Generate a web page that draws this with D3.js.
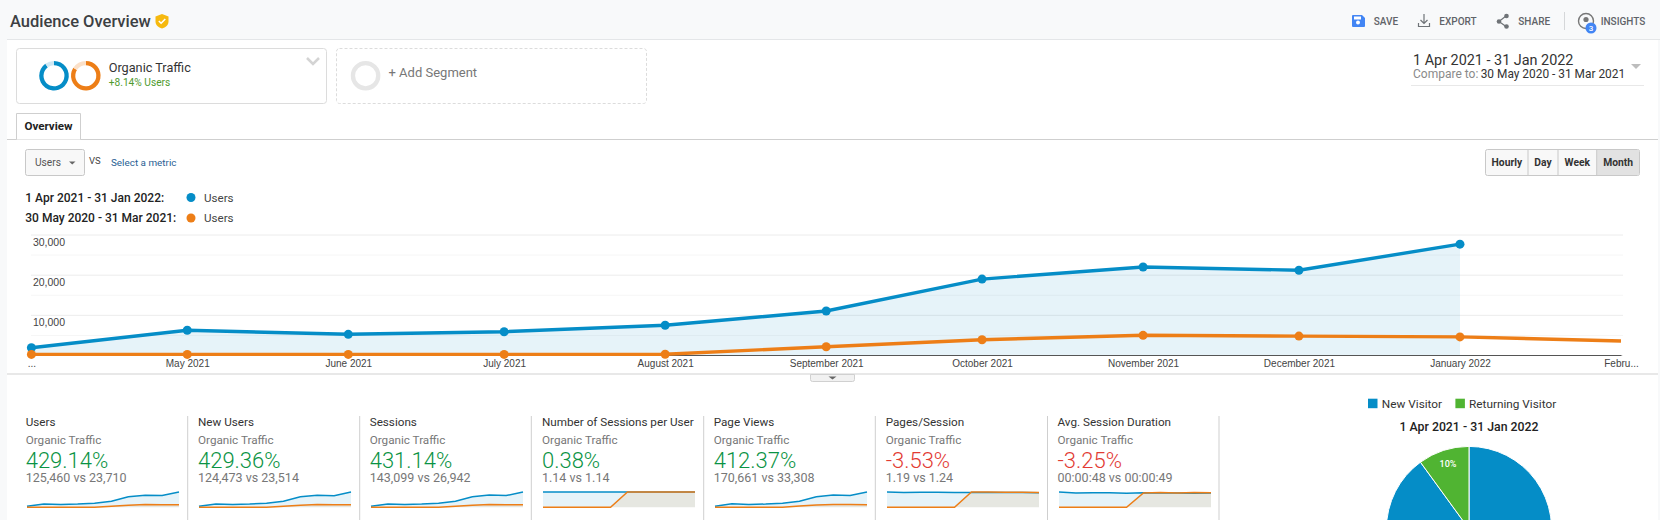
<!DOCTYPE html>
<html>
<head>
<meta charset="utf-8">
<title>Audience Overview</title>
<script src="https://cdn.jsdelivr.net/npm/d3@7/dist/d3.min.js"></script>
<style>
html,body{margin:0;padding:0;background:#fff;overflow:hidden}
svg{display:block}
text{font-family:Roboto,sans-serif}
.ax text{font-family:"Liberation Sans",Arial,sans-serif}
</style>
</head>
<body>
<svg id="c" width="1660" height="520"></svg>
<script>
// ---------- data ----------
const months = ["2021-04-01","2021-05-01","2021-06-01","2021-07-01","2021-08-01","2021-09-01","2021-10-01","2021-11-01","2021-12-01","2022-01-01","2022-02-01"];
const monthLabels = ["...","May 2021","June 2021","July 2021","August 2021","September 2021","October 2021","November 2021","December 2021","January 2022","Febru..."];
const usersCurrent = [1800,6150,5150,5800,7400,10950,18900,21900,21100,27600];
const usersPrevious = [150,150,150,150,200,2060,3800,4900,4700,4500,3500];
const yMajorTicks = [10000,20000,30000];
const yGridTicks = [0,5000,10000,15000,20000,25000,30000];

const metricNames = ["Users","New Users","Sessions","Number of Sessions per User","Page Views","Pages/Session","Avg. Session Duration"];
const metricChange = ["429.14%","429.36%","431.14%","0.38%","412.37%","-3.53%","-3.25%"];
const metricCompare = ["125,460 vs 23,710","124,473 vs 23,514","143,099 vs 26,942","1.14 vs 1.14","170,661 vs 33,308","1.19 vs 1.24","00:00:48 vs 00:00:49"];
const sparkCurrent = [
  [1800,6150,5150,5800,7400,10950,18900,21900,21100,27600],
  [1750,6100,5100,5750,7300,10800,18800,21700,20900,27400],
  [2050,7000,5850,6600,8400,12500,21500,25000,24000,31400],
  [1.14,1.14,1.14,1.14,1.14,1.14,1.14,1.14,1.14,1.14],
  [2400,8300,7000,7800,10000,14800,25500,29800,28700,37000],
  [1.23,1.2,1.21,1.21,1.2,1.2,1.19,1.19,1.19,1.18],
  [52,49,49.5,49.5,48,49.5,48.5,49,48,49]
];
const sparkPrevious = [
  [150,150,150,150,200,2060,3800,4900,4700,4500],
  [150,150,150,150,200,2040,3750,4850,4650,4450],
  [170,170,170,170,230,2350,4330,5590,5360,5130],
  [0,0,0,0,0,1.14,1.14,1.14,1.14,1.14],
  [210,210,210,210,280,2880,5320,6860,6580,6300],
  [0,0,0,0,0,1.24,1.23,1.21,1.21,1.2],
  [0,0,0,0,0,49,50,48.5,50,49.5]
];
const sparkLeft = [27,199,371,543,715,887,1059];
const metricLeft = [25.7,198,369.7,542,713.7,885.7,1057.5];
const dividers = [187.7,359.7,531.3,703.7,875.3,1047.5,1219];

const pieLabels = ["New Visitor","Returning Visitor"];
const pieValues = [90,10];
const rangeButtons = ["Hourly","Day","Week","Month"];

// ---------- colours ----------
const BLUE="#058dc7", ORANGE="#ed7e17", GREEN="#50b432";
const svg = d3.select("#c");

function T(x,y,s,o={}){
  return svg.append("text").attr("x",x).attr("y",y).attr("dy","0.35em").text(s)
    .attr("font-size",o.size||12).attr("fill",o.fill||"#333").attr("font-weight",o.weight||400)
    .attr("text-anchor",o.anchor||"start").style("font-family",o.family||null);
}
function R(x,y,w,h,o={}){
  return svg.append("rect").attr("x",x).attr("y",y).attr("width",w).attr("height",h)
    .attr("fill",o.fill||"none").attr("stroke",o.stroke||"none").attr("rx",o.rx||0)
    .attr("stroke-dasharray",o.dash||null);
}
function L(x1,y1,x2,y2,c,w){
  return svg.append("line").attr("x1",x1).attr("y1",y1).attr("x2",x2).attr("y2",y2).attr("stroke",c).attr("stroke-width",w||1);
}

// ---------- page chrome ----------
R(0,0,1660,520,{fill:"#f8f9fa"});
R(7,39.5,1651,481,{fill:"#fff"});
L(7,39.5,1660,39.5,"#e4e6e8");
T(10,21,"Audience Overview",{size:16.5,weight:500,fill:"#3c4043"});
svg.append("path").attr("d","M162,14 l6.5,2.4 v5 c0,3.4 -2.8,6 -6.5,7 c-3.7,-1 -6.5,-3.6 -6.5,-7 v-5 z").attr("fill","#f6b90f");
svg.append("path").attr("d","M158.8,21 l2.3,2.3 l4.2,-4.4").attr("fill","none").attr("stroke","#fff").attr("stroke-width",1.5);

// toolbar
svg.append("path").attr("d","M1353,15 h9 l3,3 v8 a1,1 0 0 1 -1,1 h-11 a1,1 0 0 1 -1,-1 v-10 a1,1 0 0 1 1,-1z").attr("fill","#4285f4");
svg.append("circle").attr("cx",1358).attr("cy",22.5).attr("r",2).attr("fill","#fff");
R(1354,16.5,7,3,{fill:"#fff"});
T(1373.7,21.7,"SAVE",{size:10,weight:500,fill:"#5f6368"});
svg.append("path").attr("d","M1424,14 v9 M1420.5,20 l3.5,3.5 l3.5,-3.5 M1418.5,23 v3.5 h11 v-3.5").attr("fill","none").attr("stroke","#6f7377").attr("stroke-width",1.2);
T(1439.3,21.7,"EXPORT",{size:10,weight:500,fill:"#5f6368"});
svg.append("path").attr("d","M1506,16 L1499,21.5 L1506,26.5").attr("fill","none").attr("stroke","#6f7377").attr("stroke-width",1.2);
[[1506.5,16],[1499,21.5],[1506.5,26.5]].forEach(p=>svg.append("circle").attr("cx",p[0]).attr("cy",p[1]).attr("r",2.3).attr("fill","#6f7377"));
T(1518.3,21.7,"SHARE",{size:10,weight:500,fill:"#5f6368"});
L(1564.5,12,1564.5,30,"#d5d7d9");
svg.append("circle").attr("cx",1586).attr("cy",21).attr("r",7.5).attr("fill","none").attr("stroke","#777").attr("stroke-width",1.4);
svg.append("circle").attr("cx",1586).attr("cy",19.5).attr("r",2.6).attr("fill","#777");
svg.append("circle").attr("cx",1591).attr("cy",28).attr("r",5.5).attr("fill","#4285f4");
T(1591,28.2,"3",{size:8,fill:"#fff",anchor:"middle",weight:500});
T(1600.7,21.7,"INSIGHTS",{size:10,weight:500,fill:"#5f6368"});

// segment boxes
R(16.5,48.5,310,55,{stroke:"#dcdcdc",rx:3,fill:"#fff"});
R(336.5,48.5,310,55,{stroke:"#dcdcdc",rx:3,dash:"3,2",fill:"#fff"});
const ringPie = d3.pie().sort(null);
const ringArc = d3.arc().innerRadius(10.5).outerRadius(14.8);
function ring(cx,vals,cols){
  svg.append("g").attr("transform",`translate(${cx},75.7)`).selectAll("path").data(ringPie(vals)).join("path")
    .attr("d",ringArc).attr("fill",(d,i)=>cols[i]);
}
ring(54,[90,10],[BLUE,"#cfe8f4"]);
ring(85.8,[84,16],[ORANGE,"#fbe0c8"]);
ring(365.6,[100,0],["#e6e6e6","#e6e6e6"]);
T(108.7,68,"Organic Traffic",{size:12.7,fill:"#333"});
T(108.7,82.7,"+8.14% Users",{size:10.2,fill:"#4f9a2e"});
svg.append("path").attr("d","M307,58 l6,6 l6,-6").attr("fill","none").attr("stroke","#d4d4d4").attr("stroke-width",2.5);
T(388.5,72.7,"+ Add Segment",{size:13,fill:"#777"});

// date range
T(1413,60,"1 Apr 2021 - 31 Jan 2022",{size:14.4,fill:"#333"});
T(1413,73.7,"Compare to:",{size:12,fill:"#8a8a8a"});
T(1480.7,73.7,"30 May 2020 - 31 Mar 2021",{size:11.9,fill:"#333"});
svg.append("path").attr("d","M1631,64 h10 l-5,5 z").attr("fill","#bdbdbd");
L(1411,85.5,1644,85.5,"#e8e8e8");

// tab
L(7,139.5,1658,139.5,"#cfcfcf");
svg.append("path").attr("d","M16.5,139.5 V113.5 H80.5 V139.5").attr("fill","#fff").attr("stroke","#cfcfcf");
T(48.5,125.5,"Overview",{size:11.6,weight:700,anchor:"middle",fill:"#222"});

// metric selector
R(25.5,149.5,59,26,{fill:"#f8f8f8",stroke:"#c8c8c8",rx:2});
T(35,162.7,"Users",{size:10.2,fill:"#555"});
svg.append("path").attr("d","M69,161.5 h6.5 l-3.25,3 z").attr("fill","#666");
T(89,161,"VS",{size:9.5,fill:"#444"});
T(111,163,"Select a metric",{size:9.9,fill:"#2a5f94"});

// time buttons
const btnX = d3.scaleOrdinal().domain(rangeButtons).range([1485.7,1528,1558,1596.7]);
const btnW = d3.scaleOrdinal().domain(rangeButtons).range([42.3,30,38.7,43]);
R(1485.5,149.5,154,26,{fill:"#f8f8f8",stroke:"#c8c8c8",rx:2});
R(1597,150,42,25,{fill:"#e2e2e2"});
rangeButtons.forEach((b,i)=>{
  if(i>0) L(btnX(b),149.5,btnX(b),175.5,"#c8c8c8");
  T(btnX(b)+btnW(b)/2,162.7,b,{size:10.3,weight:700,anchor:"middle",fill:"#333"});
});

// legend
const legendRows = [["1 Apr 2021 - 31 Jan 2022:",BLUE,197.5],["30 May 2020 - 31 Mar 2021:",ORANGE,218]];
legendRows.forEach(r=>{
  T(25.3,r[2],r[0],{size:12,weight:500,fill:"#222"});
  svg.append("circle").attr("cx",191).attr("cy",r[2]).attr("r",4.5).attr("fill",r[1]);
  T(204,r[2],"Users",{size:11.6,fill:"#444"});
});

// ---------- main chart ----------
const dates = months.map(d=>new Date(d+"T00:00:00Z"));
const x = d3.scaleUtc().domain([dates[0],dates[10]]).range([31.4,1621]);
const y = d3.scaleLinear().domain([0,30000]).range([355,234.5]);

const grid = svg.append("g").attr("class","ax").attr("transform","translate(31,0)")
  .call(d3.axisRight(y).tickValues(yGridTicks).tickSize(1592).tickFormat(""));
grid.select(".domain").remove();
grid.selectAll("line").attr("stroke",d=>d%10000===0?"#ececec":"#f6f6f6");

const curData = usersCurrent.map((v,i)=>({d:dates[i],v}));
const prevData = usersPrevious.map((v,i)=>({d:dates[i],v}));
const area = d3.area().x(p=>x(p.d)).y0(y(0)).y1(p=>y(p.v));
const line = d3.line().x(p=>x(p.d)).y(p=>y(p.v));
svg.append("path").datum(curData).attr("d",area).attr("fill",BLUE).attr("fill-opacity",0.1);

const xAxis = svg.append("g").attr("class","ax").attr("transform","translate(0,355)")
  .call(d3.axisBottom(x).tickValues(dates).tickSize(0).tickPadding(5).tickFormat((d,i)=>monthLabels[i]));
xAxis.select(".domain").attr("stroke","#555");
xAxis.selectAll("text").attr("font-size",10).attr("fill","#444");

const yAxis = svg.append("g").attr("class","ax").attr("transform","translate(65,0)")
  .call(d3.axisLeft(y).tickValues(yMajorTicks).tickSize(0).tickPadding(0).tickFormat(d3.format(",")));
yAxis.select(".domain").remove();
yAxis.selectAll("text").attr("font-size",10.5).attr("fill","#444").attr("dy","1.0em");

svg.append("path").datum(curData).attr("d",line).attr("fill","none").attr("stroke",BLUE).attr("stroke-width",3.4);
svg.append("g").selectAll("circle").data(curData).join("circle").attr("cx",p=>x(p.d)).attr("cy",p=>y(p.v)).attr("r",4.5).attr("fill",BLUE);
svg.append("path").datum(prevData).attr("d",line).attr("fill","none").attr("stroke",ORANGE).attr("stroke-width",3.4);
svg.append("g").selectAll("circle").data(prevData.slice(0,10)).join("circle").attr("cx",p=>x(p.d)).attr("cy",p=>y(p.v)).attr("r",4.5).attr("fill",ORANGE);

// slider
L(7,374,1658,374,"#d2d2d2",1.2);
svg.append("path").attr("d","M810.5,374.5 h44 v5 a2,2 0 0 1 -2,2 h-40 a2,2 0 0 1 -2,-2z").attr("fill","#f1f1f1").attr("stroke","#d0d0d0");
svg.append("path").attr("d","M828.5,376.5 h8 l-4,3 z").attr("fill","#666");

// ---------- metric tiles ----------
dividers.forEach(v=>L(v,416,v,520,"#cfcfcf"));
metricNames.forEach((name,i)=>{
  const lx = metricLeft[i];
  T(lx,421.7,name,{size:11.7,fill:"#333"});
  T(lx,439.7,"Organic Traffic",{size:11.7,fill:"#777"});
  T(lx,460.7,metricChange[i],{size:22,weight:300,fill:metricChange[i][0]==="-"?"#e23b33":"#0a9344"});
  T(lx,477.7,metricCompare[i],{size:12.5,fill:"#777"});
  const sx = d3.scalePoint().domain(d3.range(10)).range([sparkLeft[i],sparkLeft[i]+152]);
  const top = d3.max(sparkCurrent[i].concat(sparkPrevious[i]));
  const sy = d3.scaleLinear().domain([0,top]).range([507.3,492]);
  const a = d3.area().x((d,j)=>sx(j)).y0(507.3).y1(d=>sy(d));
  const l = d3.line().x((d,j)=>sx(j)).y(d=>sy(d));
  svg.append("path").attr("d",a(sparkCurrent[i])).attr("fill",BLUE).attr("fill-opacity",0.1);
  svg.append("path").attr("d",a(sparkPrevious[i])).attr("fill",ORANGE).attr("fill-opacity",0.1);
  svg.append("path").attr("d",l(sparkCurrent[i])).attr("fill","none").attr("stroke",BLUE).attr("stroke-width",1.5);
  svg.append("path").attr("d",l(sparkPrevious[i])).attr("fill","none").attr("stroke",ORANGE).attr("stroke-width",1.5);
});

// ---------- pie ----------
const pieColor = d3.scaleOrdinal().domain(pieLabels).range([BLUE,GREEN]);
[[1368,1381.8],[1455.4,1469]].forEach((p,i)=>{
  R(p[0],398.7,9.5,9.5,{fill:pieColor(pieLabels[i])});
  T(p[1],403.7,pieLabels[i],{size:11.8,fill:"#333"});
});
T(1469,426.7,"1 Apr 2021 - 31 Jan 2022",{size:12.3,weight:500,anchor:"middle",fill:"#222"});
const pieG = svg.append("g").attr("transform","translate(1469,529)");
const pieArcs = d3.pie().sort(null)(pieValues);
pieG.selectAll("path").data(pieArcs).join("path")
  .attr("d",d3.arc().innerRadius(0).outerRadius(82.6))
  .attr("fill",(d,i)=>pieColor(pieLabels[i])).attr("stroke","#fff").attr("stroke-width",1);
const labelArc = d3.arc().innerRadius(68).outerRadius(68);
const c = labelArc.centroid(pieArcs[1]);
pieG.append("text").attr("x",c[0]).attr("y",c[1]).attr("dy","0.35em").attr("text-anchor","middle")
  .attr("font-size",9).attr("font-weight",500).attr("fill","#fff").text(d3.format(".0%")(pieValues[1]/d3.sum(pieValues)));
</script>
</body>
</html>
